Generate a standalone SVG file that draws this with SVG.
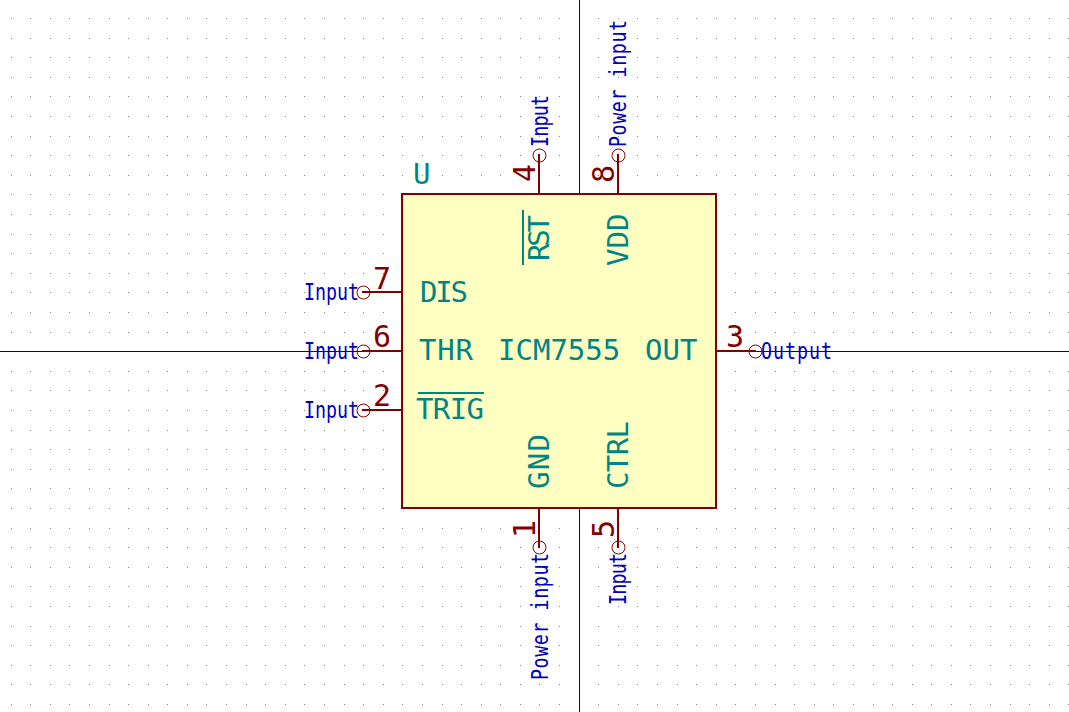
<svg xmlns="http://www.w3.org/2000/svg" width="1069" height="712" viewBox="0 0 1069 712">
<style>
.pin{stroke:#840000;stroke-width:2;fill:none}
.end{stroke:#840000;stroke-width:1;fill:none}
.body{stroke:#840000;stroke-width:2;fill:#ffffc2}
.axis{stroke:#000084;stroke-width:1;fill:none}
.over{stroke:#008484;stroke-width:2;fill:none}
text{font-family:"DejaVu Sans Mono","Liberation Mono",monospace}
.name{font-size:29px;fill:#008484}
.num{font-size:30px;fill:#840000}
.lbl{font-size:18.3px;fill:#0000c2}
</style>
<defs>
<path id="row" fill="none" stroke="#848484" stroke-width="1" d="M11 .5h1M30 .5h1M50 .5h1M69 .5h1M89 .5h1M109 .5h1M128 .5h1M148 .5h1M167 .5h1M187 .5h1M206 .5h1M226 .5h1M246 .5h1M265 .5h1M285 .5h1M304 .5h1M324 .5h1M344 .5h1M363 .5h1M383 .5h1M402 .5h1M422 .5h1M442 .5h1M461 .5h1M481 .5h1M500 .5h1M520 .5h1M539 .5h1M559 .5h1M579 .5h1M598 .5h1M618 .5h1M637 .5h1M657 .5h1M677 .5h1M696 .5h1M716 .5h1M735 .5h1M755 .5h1M775 .5h1M794 .5h1M814 .5h1M833 .5h1M853 .5h1M873 .5h1M892 .5h1M912 .5h1M931 .5h1M951 .5h1M970 .5h1M990 .5h1M1010 .5h1M1029 .5h1M1049 .5h1M1068 .5h1"/>
</defs>
<rect width="1069" height="712" fill="#ffffff"/>
<g id="grid-dots">
<use href="#row" y="18"/><use href="#row" y="38"/><use href="#row" y="57"/><use href="#row" y="77"/><use href="#row" y="96"/><use href="#row" y="116"/><use href="#row" y="136"/><use href="#row" y="155"/><use href="#row" y="175"/><use href="#row" y="194"/><use href="#row" y="214"/><use href="#row" y="234"/><use href="#row" y="253"/><use href="#row" y="273"/><use href="#row" y="292"/><use href="#row" y="312"/><use href="#row" y="332"/><use href="#row" y="351"/><use href="#row" y="371"/><use href="#row" y="390"/><use href="#row" y="410"/><use href="#row" y="430"/><use href="#row" y="449"/><use href="#row" y="469"/><use href="#row" y="488"/><use href="#row" y="508"/><use href="#row" y="528"/><use href="#row" y="547"/><use href="#row" y="567"/><use href="#row" y="586"/><use href="#row" y="606"/><use href="#row" y="626"/><use href="#row" y="645"/><use href="#row" y="665"/><use href="#row" y="684"/><use href="#row" y="704"/>
</g>
<g id="connectors">
<path class="axis" d="M0 351.5H1069M579.5 0V712"/>
</g>
<g id="U1">
<rect class="body" x="402" y="194" width="314" height="314"/>
<text class="name" x="413" y="184">U</text>
<text class="name" x="498" y="360">ICM7555</text>
</g>
<g id="pin7"><path class="pin" d="M402 292H362"/><circle class="end" cx="363.5" cy="292.5" r="6.5"/><text class="num" x="373" y="289">7</text><text class="name" x="420" y="302" textLength="48">DIS</text><text class="lbl" transform="translate(359 300) scale(1 1.25)" text-anchor="end">Input</text></g>
<g id="pin6"><path class="pin" d="M402 351H362"/><circle class="end" cx="363.5" cy="351.5" r="6.5"/><text class="num" x="373" y="347">6</text><text class="name" x="419" y="360" textLength="54">THR</text><text class="lbl" transform="translate(359 359) scale(1 1.25)" text-anchor="end">Input</text></g>
<g id="pin2"><path class="pin" d="M402 410H362"/><circle class="end" cx="363.5" cy="410.5" r="6.5"/><text class="num" x="373" y="406">2</text><text class="name" x="416" y="419" textLength="68">TRIG</text><path class="over" d="M418 393H484"/><text class="lbl" transform="translate(359 418) scale(1 1.25)" text-anchor="end">Input</text></g>
<g id="pin3"><path class="pin" d="M716 351H756"/><circle class="end" cx="755.5" cy="351.5" r="6.5"/><text class="num" x="726" y="347">3</text><text class="name" x="645" y="360">OUT</text><text class="lbl" transform="translate(761 359) scale(1 1.25)" textLength="71">Output</text></g>
<g id="pin4"><path class="pin" d="M539 194V154"/><circle class="end" cx="539.5" cy="155.5" r="6.5"/><text class="num" transform="translate(535 182) rotate(-90)">4</text><text class="name" transform="translate(549 261) rotate(-90)" textLength="46">RST</text><path class="over" d="M523 210V265"/><text class="lbl" transform="translate(548 147) rotate(-90) scale(1 1.25)" textLength="52">Input</text></g>
<g id="pin8"><path class="pin" d="M618 194V154"/><circle class="end" cx="618.5" cy="155.5" r="6.5"/><text class="num" transform="translate(614 183) rotate(-90)">8</text><text class="name" transform="translate(628 266) rotate(-90)">VDD</text><text class="lbl" transform="translate(626 147) rotate(-90) scale(1 1.25)" textLength="127">Power input</text></g>
<g id="pin1"><path class="pin" d="M539 508V548"/><circle class="end" cx="539.5" cy="547.5" r="6.5"/><text class="num" transform="translate(535 538) rotate(-90)">1</text><text class="name" transform="translate(549 489) rotate(-90)" textLength="55">GND</text><text class="lbl" transform="translate(548 680) rotate(-90) scale(1 1.25)" textLength="127">Power input</text></g>
<g id="pin5"><path class="pin" d="M618 508V548"/><circle class="end" cx="618.5" cy="547.5" r="6.5"/><text class="num" transform="translate(614 538) rotate(-90)">5</text><text class="name" transform="translate(628 489) rotate(-90)" textLength="68">CTRL</text><text class="lbl" transform="translate(626 605) rotate(-90) scale(1 1.25)" textLength="52">Input</text></g>
</svg>
